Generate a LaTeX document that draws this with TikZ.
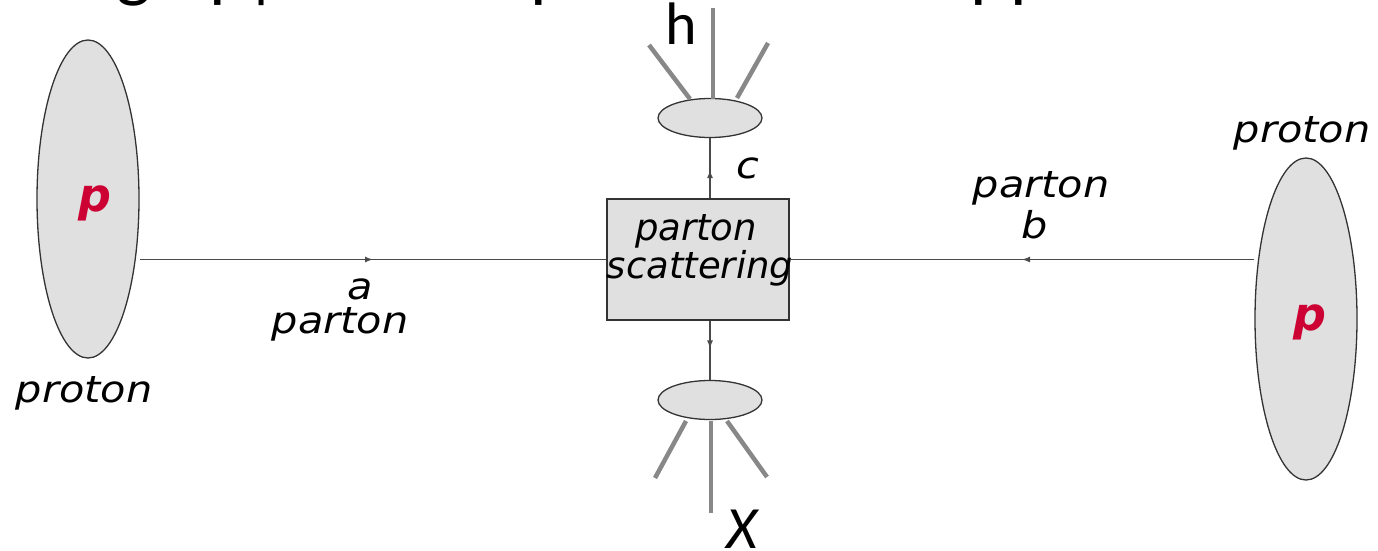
\documentclass[tikz,border=0pt]{standalone}
\usepackage{fontspec}
\setmainfont{DejaVu Sans}
\newfontfamily\calib{Carlito}
\usetikzlibrary{decorations.markings,arrows.meta,shapes.geometric}
\definecolor{lgray}{HTML}{E0E0E0}
\definecolor{edgec}{HTML}{333333}
\definecolor{wire}{HTML}{4A4A4A}
\definecolor{spray}{HTML}{888888}
\definecolor{pred}{HTML}{CC0033}
\tikzset{
  blob/.style={ellipse, draw=edgec, fill=lgray, line width=1.3pt, inner sep=0pt},
  lab/.style={font=\itshape\fontsize{37}{40}\selectfont, inner sep=0pt, anchor=base, xscale=1.12, transform shape},
  boxlab/.style={font=\itshape\fontsize{37}{40}\selectfont, inner sep=0pt, anchor=base},
  redp/.style={font=\bfseries\itshape\fontsize{46}{50}\selectfont, text=pred, inner sep=0pt},
  big/.style={font=\calib\fontsize{60}{64}\selectfont, inner sep=0pt, anchor=base},
  ttl/.style={font=\calib\fontsize{74}{80}\selectfont, inner sep=0pt},
  wireline/.style={draw=wire, line width=1.4pt},
  midarrow/.style={postaction={decorate}, decoration={markings,
     mark=at position #1 with {\arrow[wire]{Latex[length=8pt,width=6pt]}}}},
  sprayline/.style={draw=spray, line width=4.5pt},
}
\begin{document}
\begin{tikzpicture}[x=1pt, y=-1pt]
\useasboundingbox (0,0) rectangle (1378,551);
\clip (0,0) rectangle (1378,551);
% cut-off title descenders
\node[ttl, anchor=base] (t1) at (134,-6) {g};
\node[ttl, anchor=base west] (t2) at (209,-6) {p};
\node[ttl, anchor=base] (t3) at (262,-6) {|};
\node[ttl, anchor=base west] (t4) at (530,-6) {p};
\node[ttl, anchor=base west] (t5) at (970,-6) {p};
\node[ttl, anchor=base west] (t6) at (1010,-6) {p};
% protons
\node[blob, minimum width=102pt, minimum height=318pt] (lp) at (88,199) {};
\node[blob, minimum width=102pt, minimum height=322pt] (rp) at (1306,319) {};
\node[redp] (lpl) at (95,203) {p};
\node[redp] (rpl) at (1310,322) {p};
\node[lab] (lproton) at (84,402) {proton};
\node[lab] (rproton) at (1302,142) {proton};
% box
\node[draw=edgec, fill=lgray, line width=1.3pt, minimum width=182pt, minimum height=121pt, inner sep=0pt] (box) at (698,259.5) {};
\node[boxlab] (bt1) at (696,240) {parton};
\node[boxlab] (bt2) at (700,278) {scattering};
% fragmentation blobs
\node[blob, minimum width=104pt, minimum height=39pt] (top) at (710,118) {};
\node[blob, minimum width=104pt, minimum height=39pt] (bot) at (710,400) {};
% connectors
\coordinate (la) at (box.west -| lp.east);
\coordinate (rb) at (box.east -| rp.west);
\draw[wireline, midarrow=0.5] (la) -- (box.west);
\draw[wireline, midarrow=0.5] (rb) -- (box.east);
\draw[wireline, midarrow=0.47] (box.north -| top.south) -- (top.south);
\draw[wireline, midarrow=0.47] (box.south -| bot.north) -- (bot.north);
% labels
\node[lab] (al) at (360,299) {a};
\node[lab] (ap) at (340,333) {parton};
\node[lab] (bp) at (1041,197) {parton};
\node[lab] (bl) at (1035,238) {b};
\node[lab] (cl) at (748,178) {c};
% sprays
\coordinate (tc0) at (713,99);
\coordinate (tc1) at (713,8);
\coordinate (tl0) at (690,99);
\coordinate (tl1) at (649,45);
\coordinate (tr0) at (737,98);
\coordinate (tr1) at (768,43);
\draw[sprayline] (tc0) -- (tc1);
\draw[sprayline] (tl0) -- (tl1);
\draw[sprayline] (tr0) -- (tr1);
\coordinate (bc0) at (711,421);
\coordinate (bc1) at (711,513);
\coordinate (bl0) at (686,421);
\coordinate (bl1) at (655,478);
\coordinate (br0) at (727,421);
\coordinate (br1) at (767,477);
\draw[sprayline] (bc0) -- (bc1);
\draw[sprayline] (bl0) -- (bl1);
\draw[sprayline] (br0) -- (br1);
\node[big] (hl) at (681,45) {h};
\node[big] (xl) at (742,548) {\itshape X};
\end{tikzpicture}
\end{document}
